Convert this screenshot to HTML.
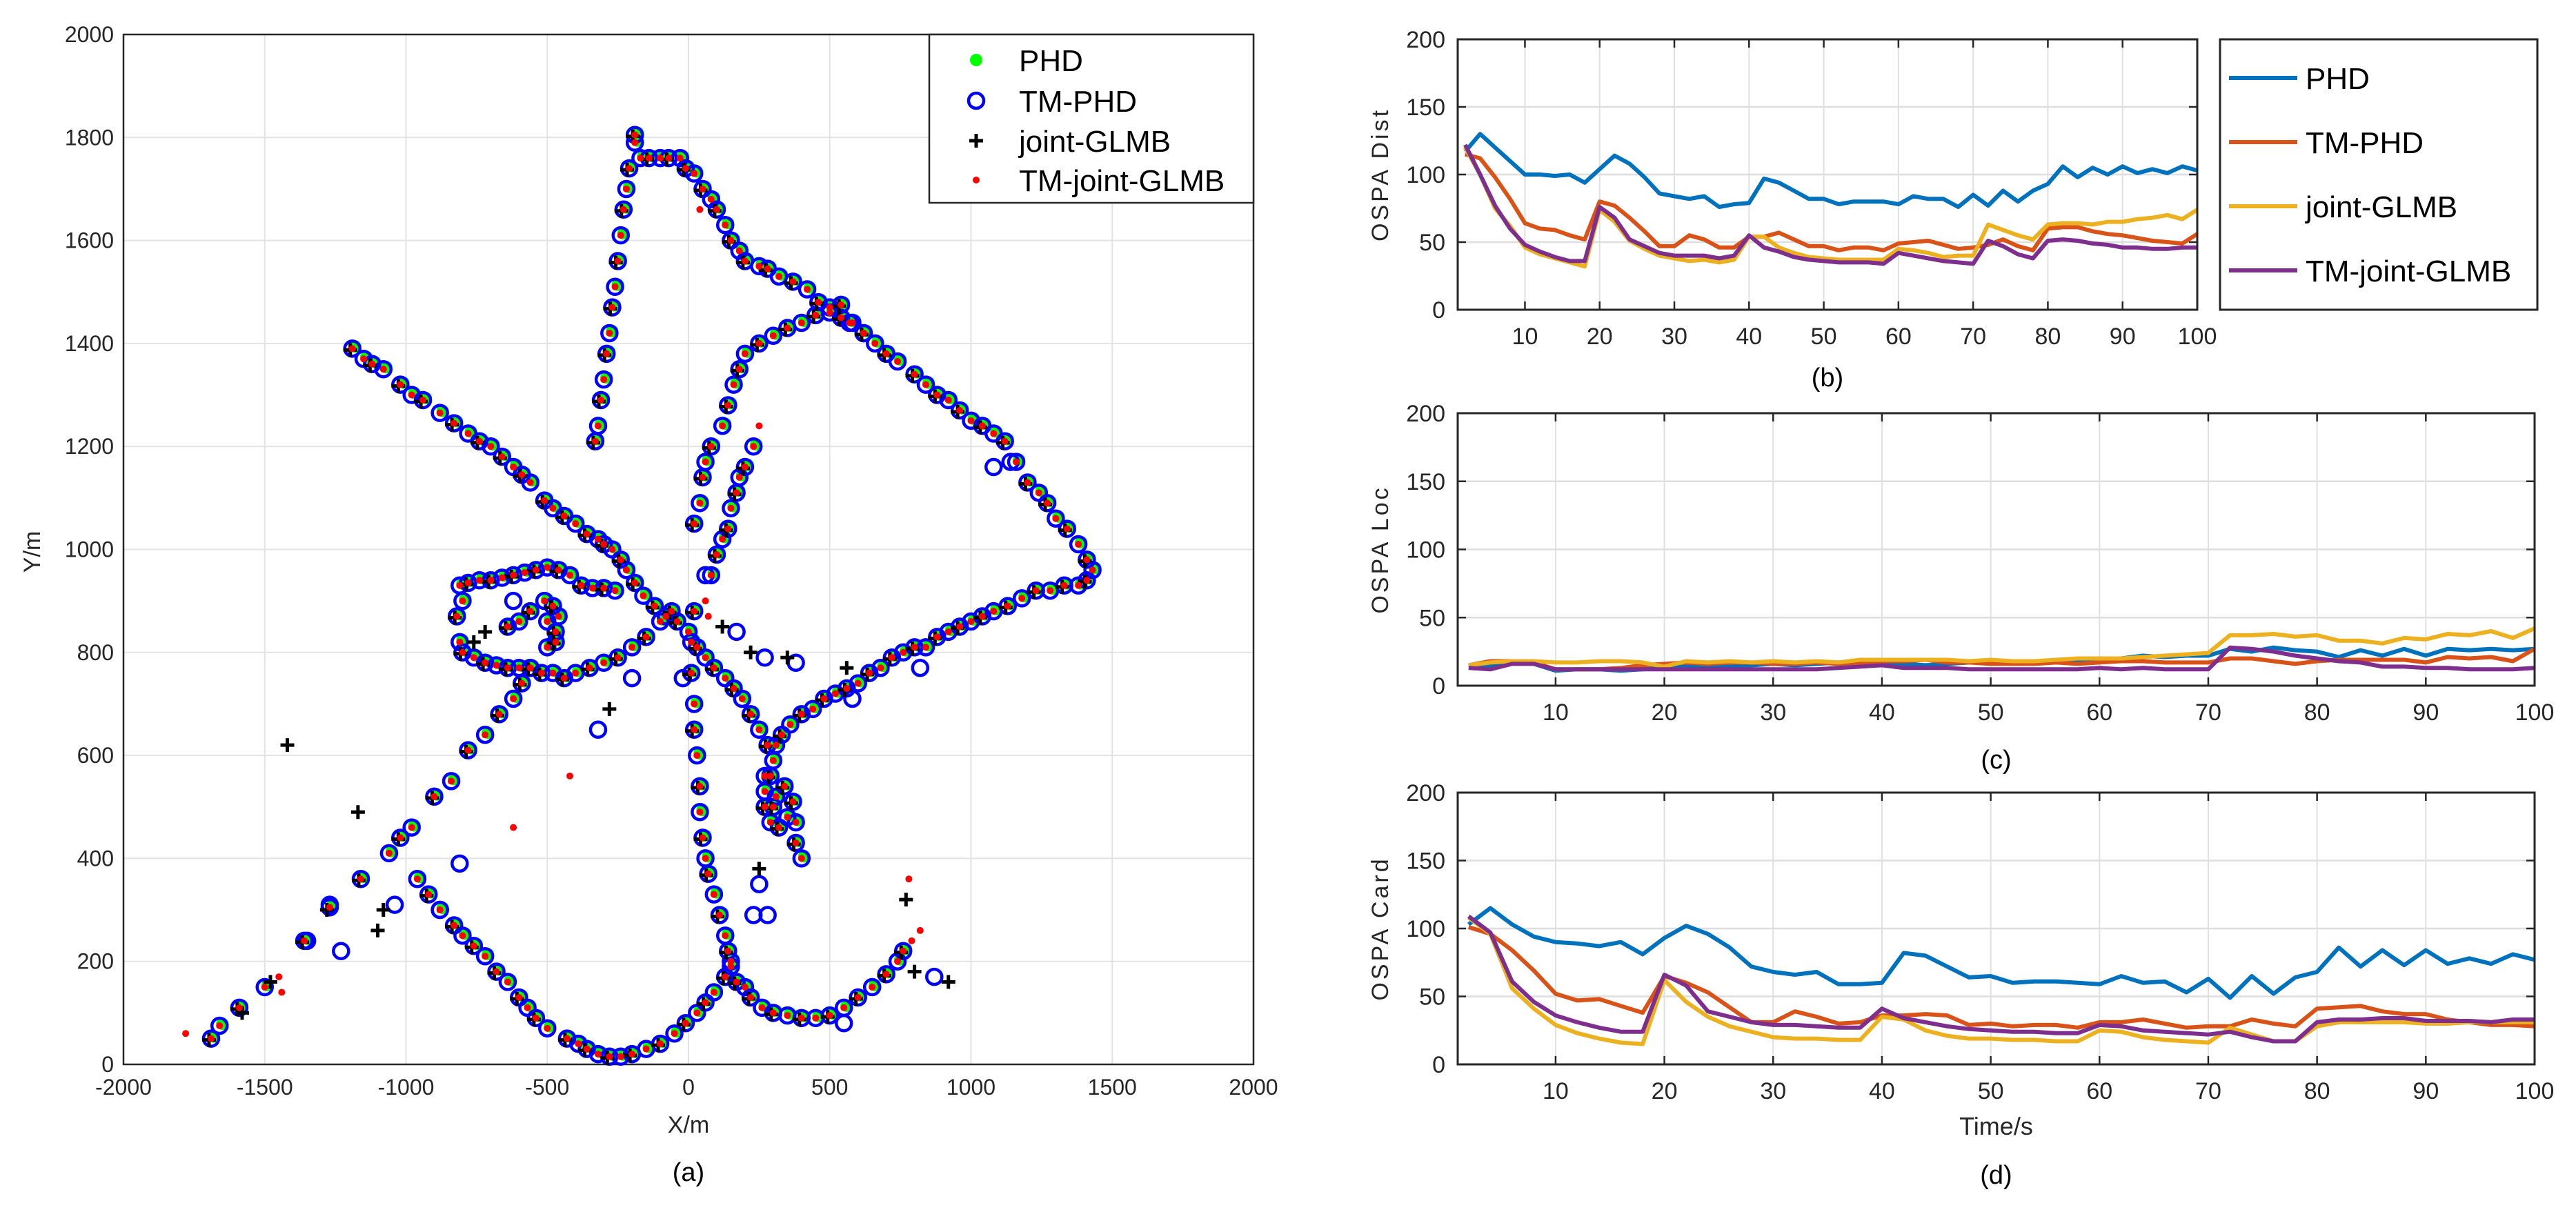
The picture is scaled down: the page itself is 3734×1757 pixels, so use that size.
<!DOCTYPE html>
<html><head><meta charset="utf-8">
<style>
html,body{margin:0;padding:0;background:#fff;}
svg{display:block;font-family:"Liberation Sans",sans-serif;}
</style></head>
<body>
<svg id="fig" width="3734" height="1757" viewBox="0 0 3734 1757" xmlns="http://www.w3.org/2000/svg">
<rect x="0" y="0" width="3734" height="1757" fill="#fff"/>
<g id="pa"></g>
<g id="pb"></g>
<g id="pc"></g>
<g id="pd"></g>
</svg>
<script>
// ---------- data ----------
const trackX = [-1190,-1150,-1120,-1080,-1020,-980,-940,-880,-830,-780,-740,-700,-660,-620,-590,-560,-510,-480,-440,-400,-360,-320,-300,-270,-240,-220,-190,-160,-120,-80,-40,0,30,60,90,130,160,190,220,250,280,300,290,270,270,290,320,350,370,380,380,400,340,310,300,270,
-330,-320,-310,-300,-290,-280,-270,-260,-250,-240,-230,-220,-210,-190,-190,-170,-140,-100,-70,-30,-10,20,50,80,100,130,150,180,200,250,280,320,370,420,460,500,540,580,620,660,700,740,800,840,880,920,960,1000,1040,1080,1120,1160,1200,1240,1270,1300,1340,1380,1410,1430,
1410,1380,1330,1280,1230,1180,1130,1080,1040,1000,960,920,880,840,800,760,720,680,640,600,560,520,480,440,400,360,330,310,
20,40,50,60,80,120,140,160,180,200,250,300,350,400,450,500,540,570,620,
80,100,120,140,150,170,180,200,230,
20,10,10,20,20,30,40,40,50,60,70,90,110,130,140,150,170,200,220,260,300,350,400,450,500,550,600,650,700,740,760,
-960,-920,-880,-830,-800,-760,-720,-680,-640,-600,-570,-540,-500,-430,-390,-360,-320,-280,-240,-200,-150,-100,-50,-10,30,60,90,130,150,
-1690,-1660,-1590,-1500,-1360,-1270,-1160,-1060,-1020,-980,-900,-840,-780,-720,-670,-620,-590,-560,-520,-480,-440,-400,-350,-300,-250,-200,-150,-100,-60,
-810,-780,-740,-700,-660,-620,-580,-540,-500,-460,-420,-380,-340,-300,-260,-820,-810,-800,-760,-720,-680,-640,-600,-560,-500,-470,-460,-480,-510,-560,-600,-640,-500,-470,-800];
const trackY = [1390,1370,1360,1350,1320,1300,1290,1265,1245,1225,1210,1200,1180,1160,1145,1130,1095,1080,1065,1050,1030,1020,1010,1000,980,960,935,910,890,870,860,840,810,790,770,750,730,710,680,650,620,590,560,530,500,470,460,480,510,470,430,400,540,520,500,560,
1210,1240,1290,1330,1380,1420,1470,1510,1560,1610,1660,1700,1740,1790,1805,1760,1760,1760,1760,1760,1740,1730,1700,1680,1660,1630,1600,1580,1560,1550,1545,1530,1520,1505,1480,1460,1450,1440,1420,1400,1380,1365,1340,1320,1300,1290,1270,1250,1240,1225,1210,1170,1130,1110,1090,1060,1040,1010,980,960,
940,930,930,920,920,905,890,880,870,860,850,840,830,810,810,800,790,770,760,740,730,720,710,690,680,660,640,620,
1050,1090,1140,1170,1200,1240,1280,1320,1350,1380,1400,1415,1430,1440,1455,1470,1475,1440,1420,
950,990,1020,1040,1080,1110,1140,1160,1200,
880,820,760,700,650,600,540,490,440,400,370,330,290,250,220,190,160,150,130,110,100,95,90,90,95,110,130,150,175,200,220,
360,330,300,270,250,230,210,180,160,130,110,90,70,50,40,30,20,15,15,20,30,40,60,80,100,120,140,170,200,
50,75,110,150,240,305,360,410,440,460,520,550,610,640,680,710,740,770,760,760,750,760,770,780,790,810,830,860,880,
930,935,940,940,945,950,955,960,965,960,950,930,925,925,920,870,820,800,790,780,775,770,770,770,810,840,870,890,900,880,860,850,860,820,900];
const tmphdExtraX = [-320,-200,-810,-1040,-1230,-880,-620,380,270,170,230,280,250,820,870,550,580,1140,1080,-20,60,-1350,-1270];
const tmphdExtraY = [650,750,390,310,220,300,900,780,790,840,290,290,350,770,170,80,710,1170,1160,750,950,240,310];
const glmbExtraX = [-1420,-1170,-1100,-1080,-760,-720,-280,120,220,350,560,250,770,800,920,-1580,-1480,-1280];
const glmbExtraY = [620,490,260,300,820,840,690,850,800,790,770,380,320,180,160,100,160,300];
const tmglmbExtraX = [-1780,-1440,-1450,-620,-420,250,780,820,790,60,70,40];
const tmglmbExtraY = [60,140,170,460,560,1240,360,260,240,900,870,1660];

const timeSteps = [2,4,6,8,10,12,14,16,18,20,22,24,26,28,30,32,34,36,38,40,42,44,46,48,50,52,54,56,58,60,62,64,66,68,70,72,74,76,78,80,82,84,86,88,90,92,94,96,98,100];
const distPHD = [117,130,120,110,100,100,99,100,94,104,114,108,98,86,84,82,84,76,78,79,97,94,88,82,82,78,80,80,80,78,84,82,82,76,85,77,88,80,88,93,106,98,105,100,106,101,104,101,106,103];
const distTMPHD = [115,112,98,82,64,60,59,55,52,80,77,68,58,47,47,55,52,46,46,54,54,57,52,47,47,44,46,46,44,49,50,51,48,45,46,48,52,47,44,60,61,61,58,56,55,53,51,50,49,56];
const distGLMB = [120,100,75,62,46,41,38,35,32,74,65,51,45,40,38,36,37,35,37,54,54,46,42,39,38,37,37,37,37,45,44,42,39,40,40,63,59,55,52,63,64,64,63,65,65,67,68,70,67,74];
const distTMGLMB = [122,100,77,60,48,43,39,36,36,76,68,52,47,42,40,40,40,38,40,55,46,43,39,37,36,35,35,35,34,42,40,38,36,35,34,51,47,41,38,51,52,51,49,48,46,46,45,45,46,46];
const locPHD = [14,15,17,16,11,12,12,11,12,13,14,14,14,15,16,15,16,17,17,18,16,15,16,17,18,17,17,18,19,20,20,22,21,22,22,27,25,28,26,25,21,26,22,27,22,27,26,27,26,27];
const locTMPHD = [15,18,18,17,12,12,12,13,15,16,17,16,17,17,16,16,17,16,17,18,18,19,17,17,16,16,16,17,16,17,18,18,17,17,17,20,20,18,16,18,19,19,19,19,17,21,20,21,18,27];
const locGLMB = [15,17,18,18,17,17,18,18,17,14,18,17,18,17,18,17,18,17,19,19,19,19,19,18,19,18,18,19,20,20,20,21,22,23,24,37,37,38,36,37,33,33,31,35,34,38,37,40,35,42];
const locTMGLMB = [13,12,16,16,12,12,12,12,12,12,12,12,12,12,12,12,12,13,14,15,13,13,13,12,12,12,12,12,12,13,12,13,12,12,12,28,27,25,22,20,18,17,14,14,13,13,12,12,12,13];
const cardPHD = [103,115,103,94,90,89,87,90,81,93,102,96,86,72,68,66,68,59,59,60,82,80,72,64,65,60,61,61,60,59,65,60,61,53,63,49,65,52,64,68,86,72,84,73,84,74,78,74,81,77];
const cardTMPHD = [101,96,84,69,52,47,48,43,38,65,60,53,42,31,31,39,35,30,31,36,36,37,36,29,30,28,29,29,27,31,31,33,30,27,28,28,33,30,28,41,42,43,39,37,37,33,31,29,29,28];
const cardGLMB = [108,96,56,41,29,23,19,16,15,62,46,35,28,24,20,19,19,18,18,35,33,25,21,19,19,18,18,17,17,25,24,20,18,17,16,27,22,17,17,28,31,31,31,31,30,30,31,31,31,31];
const cardTMGLMB = [109,97,61,46,36,31,27,24,24,66,58,39,35,31,29,29,28,27,27,41,34,31,28,26,25,24,24,23,23,29,28,25,24,23,22,24,20,17,17,31,33,33,34,34,32,32,32,31,33,33];

const xTicksA = [-2000,-1500,-1000,-500,0,500,1000,1500,2000];
const yTicksA = [0,200,400,600,800,1000,1200,1400,1600,1800,2000];
const tTicks = [10,20,30,40,50,60,70,80,90,100];
const oTicks = [0,50,100,150,200];
const seriesNames = ['PHD','TM-PHD','joint-GLMB','TM-joint-GLMB'];
const lineColors = ['#0072BD','#D95319','#EDB120','#7E2F8E'];

// ---------- helpers ----------
const NS = 'http://www.w3.org/2000/svg';
function mk(parent, tag, attrs, text){
  const e = document.createElementNS(NS, tag);
  for (const k in attrs) e.setAttribute(k, attrs[k]);
  if (text !== undefined) e.textContent = text;
  parent.appendChild(e);
  return e;
}

// ---------- plot (a) ----------
const A = {L:179, R:1817, T:50, B:1543};
const ax = v => A.L + (v + 2000) / 4000 * (A.R - A.L);
const ay = v => A.B - v / 2000 * (A.B - A.T);
const pa = document.getElementById('pa');
xTicksA.forEach(t => {
  const g = mk(pa,'line',{x1:ax(t),x2:ax(t),y1:A.T,y2:A.B,stroke:'#e3e3e3','stroke-width':2});
  
  
  const l = mk(pa,'text',{x:ax(t),y:A.B+44,'font-size':32,'text-anchor':'middle',fill:'#262626'}, String(t));
  
  
});
yTicksA.forEach(t => {
  const g = mk(pa,'line',{x1:A.L,x2:A.R,y1:ay(t),y2:ay(t),stroke:'#e3e3e3','stroke-width':2});
  
  
  const l = mk(pa,'text',{x:A.L-14,y:ay(t)+11,'font-size':32,'text-anchor':'end',fill:'#262626'}, String(t));
  
  
});
const boxA = mk(pa,'rect',{x:A.L,y:A.T,width:A.R-A.L,height:A.B-A.T,fill:'none',stroke:'#262626','stroke-width':2.5});



function greenDot(g,x,y){ const e=mk(g,'circle',{cx:x,cy:y,r:9,fill:'#00ff00'});   }
function blueCircle(g,x,y){ const e=mk(g,'circle',{cx:x,cy:y,r:11,fill:'none',stroke:'#0000ff','stroke-width':4.5});   }
function plusMark(g,x,y){ const e=mk(g,'path',{d:`M${x-10},${y}H${x+10}M${x},${y-10}V${y+10}`,stroke:'#000','stroke-width':5});   }
function redDot(g,x,y){ const e=mk(g,'circle',{cx:x,cy:y,r:5,fill:'#ff0000'});   }

const gPHD = mk(pa,'g',{});  
const gTM = mk(pa,'g',{});  
const gGL = mk(pa,'g',{});  
const gRD = mk(pa,'g',{});  
trackX.forEach((x,i) => {
  greenDot(gPHD, ax(x)+4, ay(trackY[i])-3);
  blueCircle(gTM, ax(x), ay(trackY[i]));
  if (i % 2 === 0) plusMark(gGL, ax(x)-3, ay(trackY[i])+2);
  redDot(gRD, ax(x), ay(trackY[i]));
});
tmphdExtraX.forEach((x,i) => blueCircle(gTM, ax(x), ay(tmphdExtraY[i])));
glmbExtraX.forEach((x,i) => plusMark(gGL, ax(x), ay(glmbExtraY[i])));
tmglmbExtraX.forEach((x,i) => redDot(gRD, ax(x), ay(tmglmbExtraY[i])));

// legend (a)
const lg = mk(pa,'g',{});  
mk(lg,'rect',{x:1347,y:50,width:470,height:244,fill:'#fff',stroke:'#262626','stroke-width':2.5});
const legYs = [87,146,204,261];
greenDot(lg,1415,legYs[0]); blueCircle(lg,1415,legYs[1]); plusMark(lg,1415,legYs[2]); redDot(lg,1415,legYs[3]);
seriesNames.forEach((n,i) => {
  const t = mk(lg,'text',{x:1477,y:legYs[i]+16,'font-size':44,fill:'#000'}, n);
  
  
});
let t1 = mk(pa,'text',{x:998,y:1642,'font-size':34,'text-anchor':'middle',fill:'#262626'},'X/m');
 
t1 = mk(pa,'text',{x:0,y:0,'font-size':34,'text-anchor':'middle',fill:'#262626',transform:'translate(58,800) rotate(-90)'},'Y/m');
 
t1 = mk(pa,'text',{x:998,y:1712,'font-size':38,'text-anchor':'middle',fill:'#000'},'(a)');
 

// ---------- time plots ----------
function timePlot(id, box, series, ylabel, caption, capY, xtitle){
  const g = document.getElementById(id);
  const px = v => box.L + (v - 1) / 99 * (box.R - box.L);
  const py = v => box.B - v / 200 * (box.B - box.T);
  tTicks.forEach(t => {
    const e = mk(g,'line',{x1:px(t),x2:px(t),y1:box.T,y2:box.B,stroke:'#e0e0e0','stroke-width':2});
     
    const k = mk(g,'path',{d:`M${px(t)},${box.B}v-12M${px(t)},${box.T}v12`,stroke:'#262626','stroke-width':2.5});
     
    const l = mk(g,'text',{x:px(t),y:box.B+50,'font-size':34,'text-anchor':'middle',fill:'#262626'},String(t));
     
  });
  oTicks.forEach(t => {
    const e = mk(g,'line',{x1:box.L,x2:box.R,y1:py(t),y2:py(t),stroke:'#dedede','stroke-width':2.5});
     
    const k = mk(g,'path',{d:`M${box.L},${py(t)}h12M${box.R},${py(t)}h-12`,stroke:'#262626','stroke-width':2.5});
     
    const l = mk(g,'text',{x:box.L-18,y:py(t)+12,'font-size':34,'text-anchor':'end',fill:'#262626'},String(t));
     
  });
  series.forEach((s,i) => {
    const d = timeSteps.map((t,j) => (j?'L':'M') + px(t).toFixed(1) + ',' + py(s[j]).toFixed(1)).join('');
    const e = mk(g,'path',{d:d,fill:'none',stroke:lineColors[i],'stroke-width':6,'stroke-linejoin':'round'});
     
  });
  const b = mk(g,'rect',{x:box.L,y:box.T,width:box.R-box.L,height:box.B-box.T,fill:'none',stroke:'#262626','stroke-width':3});
   
  const yl = mk(g,'text',{x:0,y:0,'font-size':34,'text-anchor':'middle',fill:'#262626','letter-spacing':'4',transform:`translate(2012,${(box.T+box.B)/2}) rotate(-90)`},ylabel);
   
  const c = mk(g,'text',{x:(box.L+box.R)/2,y:capY,'font-size':38,'text-anchor':'middle',fill:'#000'},caption);
   
  if (xtitle){
    const xt = mk(g,'text',{x:(box.L+box.R)/2,y:box.B+102,'font-size':36,'text-anchor':'middle',fill:'#262626'},xtitle);
     
  }
}
timePlot('pb',{L:2113,R:3185,T:57,B:449},[distPHD,distTMPHD,distGLMB,distTMGLMB],'OSPA Dist','(b)',560);
timePlot('pc',{L:2113,R:3674,T:599,B:994},[locPHD,locTMPHD,locGLMB,locTMGLMB],'OSPA Loc','(c)',1114);
timePlot('pd',{L:2113,R:3674,T:1149,B:1543},[cardPHD,cardTMPHD,cardGLMB,cardTMGLMB],'OSPA Card','(d)',1716,'Time/s');

// legend (b)
const pb = document.getElementById('pb');
const lb = mk(pb,'g',{});  
mk(lb,'rect',{x:3218,y:57,width:460,height:392,fill:'#fff',stroke:'#262626','stroke-width':3});
const lbYs = [113,206,299,392];
seriesNames.forEach((n,i) => {
  const s = mk(lb,'line',{x1:3231,x2:3330,y1:lbYs[i],y2:lbYs[i],stroke:lineColors[i],'stroke-width':6});
   
  const t = mk(lb,'text',{x:3342,y:lbYs[i]+16,'font-size':44,fill:'#000'},n);
   
});
</script>
</body></html>
